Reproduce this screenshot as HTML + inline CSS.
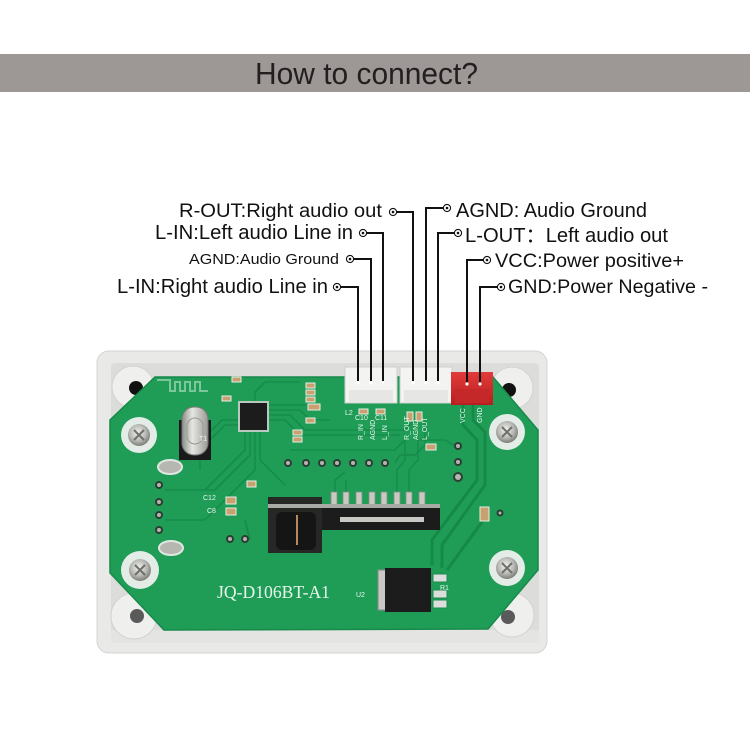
<!DOCTYPE html>
<html><head><meta charset="utf-8"><style>
html,body{margin:0;padding:0;background:#fff;}
svg{display:block;}
</style></head><body>
<svg width="750" height="750" viewBox="0 0 750 750" xmlns="http://www.w3.org/2000/svg">
<defs>
<radialGradient id="screw" cx="45%" cy="40%" r="60%"><stop offset="0" stop-color="#f2f2f0"/><stop offset="0.6" stop-color="#b9b9b5"/><stop offset="1" stop-color="#7d7d78"/></radialGradient>
<linearGradient id="xtal" x1="0" y1="0" x2="1" y2="0"><stop offset="0" stop-color="#8d8d88"/><stop offset="0.4" stop-color="#e6e6e2"/><stop offset="1" stop-color="#9a9a95"/></linearGradient>
<linearGradient id="red" x1="0" y1="0" x2="0" y2="1"><stop offset="0" stop-color="#e23a3a"/><stop offset="1" stop-color="#b81e1e"/></linearGradient>
</defs>
<rect width="750" height="750" fill="#fff"/>
<!-- banner -->
<rect x="0" y="54" width="750" height="38" fill="#9d9796"/>
<text x="255" y="84" font-family="Liberation Sans, sans-serif" font-size="31" fill="#231f20" textLength="223" lengthAdjust="spacingAndGlyphs">How to connect?</text>

<!-- labels -->
<g font-family="Liberation Sans, sans-serif" fill="#111">
<text x="179" y="217" font-size="19" textLength="203" lengthAdjust="spacingAndGlyphs">R-OUT:Right audio out</text>
<text x="155" y="239" font-size="20" textLength="198" lengthAdjust="spacingAndGlyphs">L-IN:Left audio Line in</text>
<text x="189" y="264" font-size="15" textLength="150" lengthAdjust="spacingAndGlyphs">AGND:Audio Ground</text>
<text x="117" y="293" font-size="20" textLength="211" lengthAdjust="spacingAndGlyphs">L-IN:Right audio Line in</text>
<text x="456" y="217" font-size="20" textLength="191" lengthAdjust="spacingAndGlyphs">AGND: Audio Ground</text>
<text x="465" y="242" font-size="20" textLength="203" lengthAdjust="spacingAndGlyphs">L-OUT：Left audio out</text>
<text x="495" y="267" font-size="19" textLength="189" lengthAdjust="spacingAndGlyphs">VCC:Power positive+</text>
<text x="508" y="293" font-size="19" textLength="200" lengthAdjust="spacingAndGlyphs">GND:Power Negative -</text>
</g>

<!-- case -->
<rect x="97" y="351" width="450" height="302" rx="12" fill="#e9e9e7" stroke="#d4d4d2" stroke-width="1"/>
<rect x="111" y="363" width="428" height="280" rx="4" fill="#dcdcda"/>
<rect x="111" y="630" width="428" height="13" fill="#e4e4e2"/>
<!-- bosses -->
<g fill="#efefed" stroke="#d2d2d0" stroke-width="1">
<circle cx="133" cy="387" r="21"/>
<circle cx="512" cy="388" r="21"/>
<circle cx="134" cy="616" r="23"/>
<circle cx="512" cy="615" r="22"/>
</g>
<g fill="#111">
<circle cx="136" cy="388" r="7"/>
<circle cx="509" cy="390" r="7"/>
</g>
<g fill="#5a5a5a">
<circle cx="137" cy="616" r="7"/>
<circle cx="508" cy="617" r="7"/>
</g>

<!-- board -->
<polygon points="155,377 493,377 538,430 538,570 488,629 164,630 110,573 110,420" fill="#1f9d57"/>
<polygon points="155,377 493,377 538,430 538,570 488,629 164,630 110,573 110,420" fill="none" stroke="#178a4a" stroke-width="1.5"/>
<!-- antenna -->
<path d="M157,380 H170 V391 H175 V382 H180 V391 H185 V382 H190 V391 H195 V382 H200 V391 H208" fill="none" stroke="#7cc79a" stroke-width="2"/>
<!-- traces -->
<g fill="none" stroke="#168c4b" stroke-width="1.6">
<path d="M240,420 H222 L200,442 V470"/>
<path d="M240,425 H225 L205,445"/>
<path d="M250,430 V455 L215,490 H165"/>
<path d="M245,430 V450 L205,490"/>
<path d="M255,430 V470 L205,520 H165"/>
<path d="M260,430 V460 L285,485"/>
<path d="M267,420 H285 L300,435 H400"/>
<path d="M267,415 H290 L305,430 H405 L420,415"/>
<path d="M267,410 H300 L310,420 H330"/>
<path d="M267,405 H310"/>
<path d="M255,403 V392 L265,382 H300"/>
<path d="M290,450 H395 L405,440"/>
<path d="M395,463 L400,455 H415 L425,445 V420"/>
<path d="M335,492 V480 L345,472"/>
<path d="M346,492 V480"/>
<path d="M397,492 V470 L405,460 V440"/>
<path d="M409,492 V470 L418,460 V440"/>
<path d="M245,520 L250,540"/>
</g>
<g fill="none" stroke="#158a48" stroke-width="3">
<path d="M463,403 V425 L477,440 V480 L432,540 V565"/>
<path d="M473,403 V420 L485,432 V485 L442,545 V568"/>
<path d="M487,515 L447,570"/>
</g>
<path d="M420,440 H445 L455,446" fill="none" stroke="#178d4c" stroke-width="1.6"/>

<!-- connectors -->
<rect x="345" y="367" width="52" height="36" fill="#f3f3f1" stroke="#cfcfcd"/>
<rect x="349" y="390" width="44" height="12" fill="#e6e6e4"/>
<rect x="400" y="367" width="52" height="36" fill="#f3f3f1" stroke="#cfcfcd"/>
<rect x="404" y="390" width="44" height="12" fill="#e6e6e4"/>
<rect x="451" y="372" width="42" height="33" fill="url(#red)"/>
<rect x="455" y="389" width="34" height="14" fill="#c52828"/>
<g fill="#fff">
<circle cx="358" cy="383" r="1.6"/><circle cx="371" cy="383" r="1.6"/><circle cx="383" cy="383" r="1.6"/>
<circle cx="413" cy="383" r="1.6"/><circle cx="426" cy="383" r="1.6"/><circle cx="438" cy="383" r="1.6"/>
<circle cx="467" cy="384" r="1.6"/><circle cx="480" cy="384" r="1.6"/>
</g>

<!-- connector lines -->
<g fill="none" stroke="#111" stroke-width="2">
<path d="M397,212 H413 V381"/>
<path d="M367,233 H383 V381"/>
<path d="M354,259 H371 V381"/>
<path d="M341,287 H358 V381"/>
<path d="M443,208 H426 V381"/>
<path d="M454,233 H438 V381"/>
<path d="M483,260 H467 V382"/>
<path d="M497,287 H480 V382"/>
</g>
<g fill="none" stroke="#111" stroke-width="1.1">
<circle cx="393" cy="212" r="3.6"/><circle cx="363" cy="233" r="3.6"/><circle cx="350" cy="259" r="3.6"/><circle cx="337" cy="287" r="3.6"/>
<circle cx="447" cy="208" r="3.6"/><circle cx="458" cy="233" r="3.6"/><circle cx="487" cy="260" r="3.6"/><circle cx="501" cy="287" r="3.6"/>
</g>
<g fill="#111">
<circle cx="393" cy="212" r="1.3"/><circle cx="363" cy="233" r="1.3"/><circle cx="350" cy="259" r="1.3"/><circle cx="337" cy="287" r="1.3"/>
<circle cx="447" cy="208" r="1.3"/><circle cx="458" cy="233" r="1.3"/><circle cx="487" cy="260" r="1.3"/><circle cx="501" cy="287" r="1.3"/>
</g>

<!-- screws -->
<g>
<circle cx="139" cy="435" r="18" fill="#e4ece7"/>
<circle cx="139" cy="435" r="11" fill="url(#screw)"/>
<circle cx="140" cy="570" r="19" fill="#e4ece7"/>
<circle cx="140" cy="570" r="11" fill="url(#screw)"/>
<circle cx="507" cy="432" r="18" fill="#e4ece7"/>
<circle cx="507" cy="432" r="11" fill="url(#screw)"/>
<circle cx="507" cy="568" r="18" fill="#e4ece7"/>
<circle cx="507" cy="568" r="11" fill="url(#screw)"/>
</g>
<g stroke="#6e6e6a" stroke-width="2">
<path d="M134,430 L144,440 M144,430 L134,440"/>
<path d="M135,565 L145,575 M145,565 L135,575"/>
<path d="M502,427 L512,437 M512,427 L502,437"/>
<path d="M502,563 L512,573 M512,563 L502,573"/>
</g>

<!-- crystal -->
<rect x="179" y="420" width="32" height="40" fill="#1a1a1a"/>
<rect x="182" y="407" width="26" height="48" rx="12" fill="url(#xtal)" stroke="#777" stroke-width="1"/>
<rect x="187" y="418" width="16" height="26" rx="8" fill="none" stroke="#999" stroke-width="1"/>
<!-- main chip -->
<rect x="238" y="401" width="31" height="31" fill="#b9c9bf"/>
<rect x="240" y="403" width="27" height="27" fill="#1c1c1c"/>
<!-- small caps -->
<g fill="#c9a070" stroke="#e5efe8" stroke-width="1">
<rect x="232" y="377" width="9" height="5"/>
<rect x="222" y="396" width="9" height="5"/>
<rect x="306" y="383" width="9" height="5"/><rect x="306" y="390" width="9" height="5"/><rect x="306" y="397" width="9" height="5"/>
<rect x="308" y="404" width="12" height="6"/>
<rect x="306" y="418" width="9" height="5"/>
<rect x="293" y="430" width="9" height="5"/><rect x="293" y="437" width="9" height="5"/>
<rect x="359" y="409" width="9" height="5"/><rect x="376" y="409" width="9" height="5"/>
<rect x="407" y="412" width="6" height="9"/><rect x="416" y="412" width="6" height="9"/>
<rect x="426" y="444" width="10" height="6"/>
<rect x="226" y="497" width="10" height="7"/><rect x="226" y="508" width="10" height="7"/>
<rect x="247" y="481" width="9" height="6"/>
<rect x="480" y="507" width="9" height="14"/>
</g>
<!-- holes rows -->
<g fill="#b5b5b0" stroke="#2c3e33" stroke-width="2">
<circle cx="288" cy="463" r="3"/><circle cx="306" cy="463" r="3"/><circle cx="322" cy="463" r="3"/><circle cx="337" cy="463" r="3"/><circle cx="353" cy="463" r="3"/><circle cx="369" cy="463" r="3"/><circle cx="385" cy="463" r="3"/>
<circle cx="159" cy="485" r="3"/><circle cx="159" cy="502" r="3"/><circle cx="159" cy="515" r="3"/><circle cx="159" cy="530" r="3"/>
<circle cx="230" cy="539" r="3"/><circle cx="245" cy="539" r="3"/>
<circle cx="458" cy="446" r="3"/><circle cx="458" cy="462" r="3"/><circle cx="458" cy="477" r="4"/>
<circle cx="500" cy="513" r="2.5"/>
</g>
<!-- silver oval pads -->
<ellipse cx="170" cy="467" rx="12" ry="7" fill="#b7b7b2" stroke="#e0e6e2" stroke-width="2"/>
<ellipse cx="171" cy="548" rx="12" ry="7" fill="#b7b7b2" stroke="#e0e6e2" stroke-width="2"/>
<!-- gold pins -->
<g fill="#c9c9c2" stroke="#8a8a85" stroke-width="0.8">
<rect x="331" y="492" width="6" height="13"/><rect x="343" y="492" width="6" height="13"/><rect x="356" y="492" width="6" height="13"/><rect x="369" y="492" width="6" height="13"/><rect x="381" y="492" width="6" height="13"/><rect x="394" y="492" width="6" height="13"/><rect x="406" y="492" width="6" height="13"/><rect x="419" y="492" width="6" height="13"/>
</g>
<!-- button & SD -->
<rect x="268" y="497" width="54" height="56" fill="#262826"/>
<rect x="276" y="512" width="40" height="38" rx="6" fill="#151515"/>
<rect x="268" y="504" width="172" height="4" fill="#a8aaa6"/>
<rect x="322" y="508" width="118" height="22" fill="#1c1c1c"/>
<rect x="340" y="517" width="84" height="5" fill="#c8c8c4"/>
<rect x="296" y="515" width="2" height="30" fill="#b88a5a"/>
<!-- regulator -->
<rect x="378" y="570" width="12" height="40" fill="#c8c8c4" stroke="#888" stroke-width="1"/>
<rect x="385" y="568" width="46" height="44" fill="#1c1c1c"/>
<g fill="#ddd" stroke="#1d8c4d" stroke-width="1">
<rect x="433" y="574" width="14" height="8"/><rect x="433" y="590" width="14" height="8"/><rect x="433" y="600" width="14" height="8"/>
</g>
<!-- board text -->
<text x="217" y="598" font-family="Liberation Serif, serif" font-size="18" fill="#e9f6ee" textLength="113" lengthAdjust="spacingAndGlyphs">JQ-D106BT-A1</text>
<g font-family="Liberation Sans, sans-serif" font-size="7" fill="#e9f6ee">
<text x="356" y="597">U2</text>
<text x="199" y="441">T1</text>
<text x="203" y="500">C12</text>
<text x="207" y="513">C8</text>
<text x="345" y="415">L2</text>
<text x="355" y="420">C10</text>
<text x="375" y="420">C11</text>
<text x="440" y="590">R1</text>
</g>
<g font-family="Liberation Sans, sans-serif" font-size="7" fill="#e9f6ee">
<text transform="translate(363,440) rotate(-90)">R_IN</text>
<text transform="translate(375,440) rotate(-90)">AGND</text>
<text transform="translate(387,440) rotate(-90)">L_IN</text>
<text transform="translate(409,440) rotate(-90)">R_OUT</text>
<text transform="translate(418,440) rotate(-90)">AGND</text>
<text transform="translate(427,440) rotate(-90)">L_OUT</text>
<text transform="translate(465,423) rotate(-90)">VCC</text>
<text transform="translate(482,423) rotate(-90)">GND</text>
</g>
</svg>
</body></html>
